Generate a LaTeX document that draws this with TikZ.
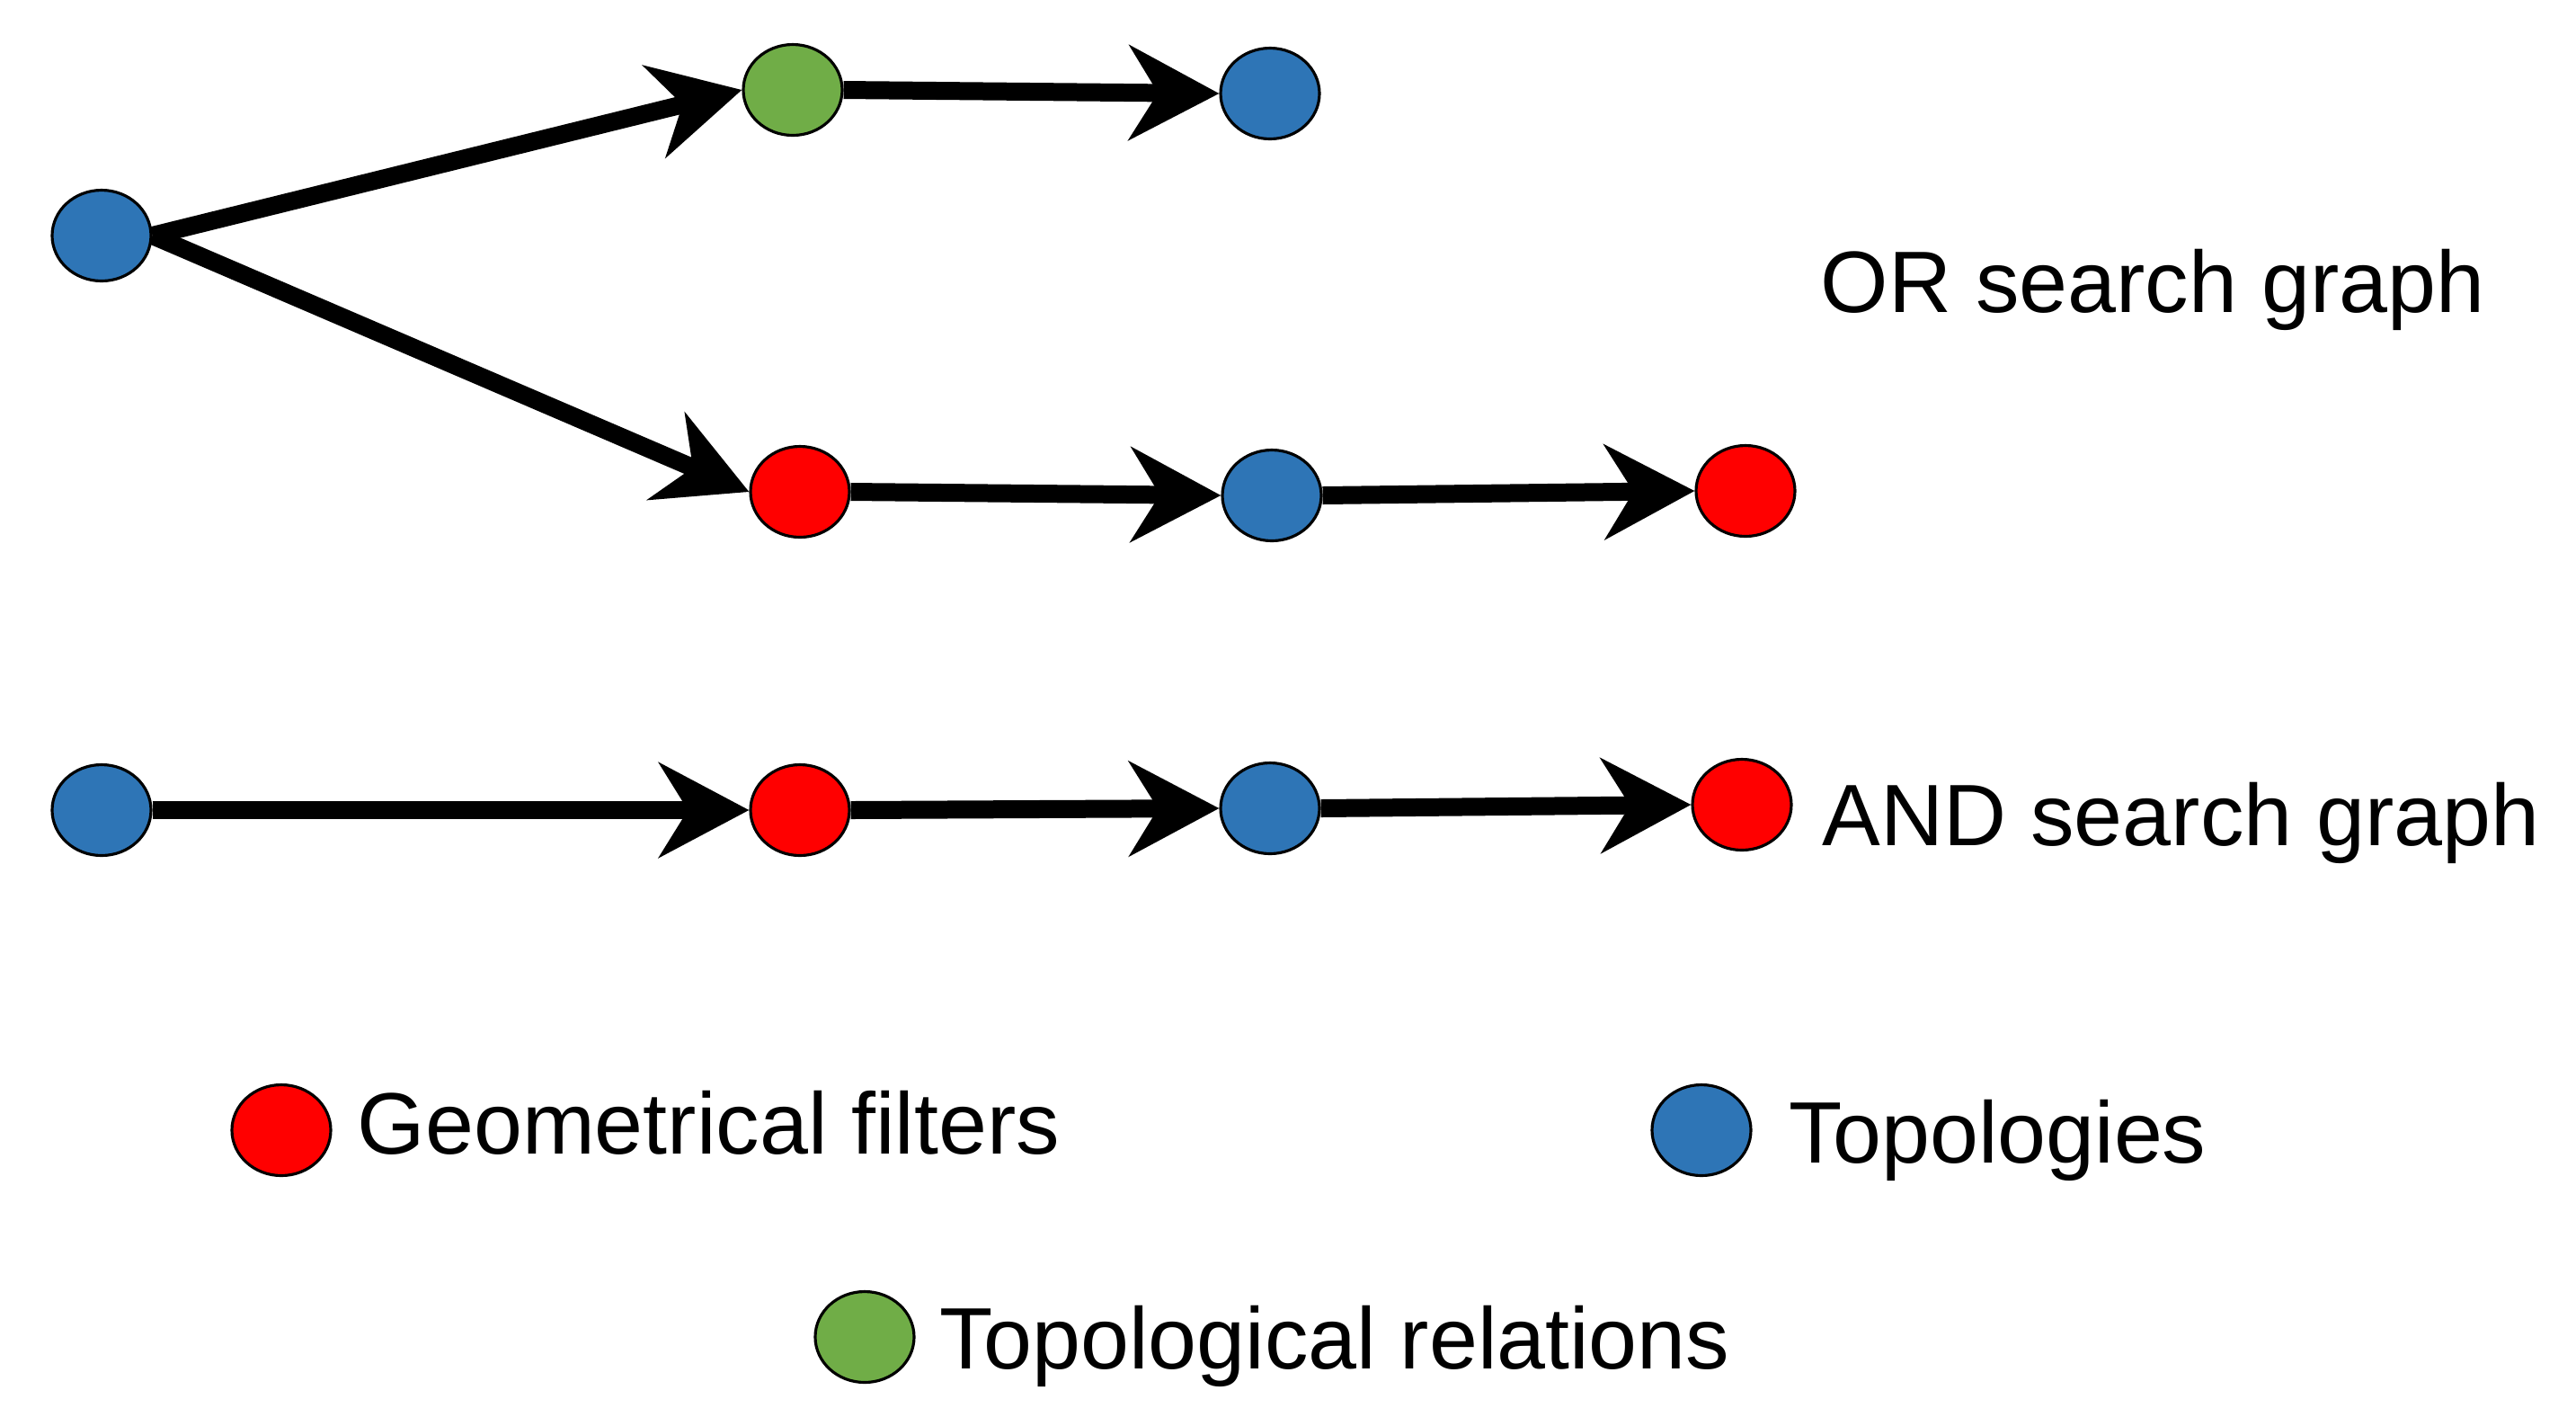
\documentclass[tikz,border=0pt]{standalone}
\usepackage{fontspec}
\setmainfont{Liberation Sans}
\usepackage{xcolor}
\usepackage{tikz}
\usetikzlibrary{arrows.meta,positioning,shapes.geometric}

\definecolor{topoblue}{HTML}{2E75B6}
\definecolor{geored}{HTML}{FF0000}
\definecolor{relgreen}{HTML}{70AD47}

\begin{document}
\begin{tikzpicture}[
  vtx/.style={ellipse, draw=black, line width=0.9pt, inner sep=0pt, minimum width=1.10cm, minimum height=1.01cm},
  topo/.style={vtx, fill=topoblue},
  geo/.style={vtx, fill=geored},
  rel/.style={vtx, fill=relgreen},
  lab/.style={font=\fontsize{27.6}{33}\selectfont, inner sep=0pt, anchor=base west},
  arrow/.style={-{Stealth[length=1cm, width=1.05cm, inset=0.32cm]}, line width=0.2cm}
]
\useasboundingbox (0,0) rectangle (28.66,-15.75);

% OR search graph
\node[topo] (t0) at (1.13,-2.62) {};
\node[rel]  (g1) at (8.82,-1.00) {};
\node[topo] (t1) at (14.13,-1.04) {};
\node[geo]  (f1) at (8.90,-5.47) {};
\node[topo] (t2) at (14.15,-5.51) {};
\node[geo]  (f2) at (19.42,-5.46) {};
\foreach \a/\b in {t0/g1, g1/t1, t0/f1, f1/t2, t2/f2} \draw[arrow] (\a.east) -- (\b.west);

% AND search graph
\node[topo] (a0) at (1.13,-9.01) {};
\node[geo]  (f3) at (8.90,-9.01) {};
\node[topo] (t3) at (14.13,-8.99) {};
\node[geo]  (f4) at (19.38,-8.95) {};
\foreach \a/\b in {a0/f3, f3/t3, t3/f4} \draw[arrow] (\a.east) -- (\b.west);

\node[lab] (orlab) at (20.25,-3.47) {OR search graph};
\node[lab] (andlab) at (20.27,-9.40) {AND search graph};

% legend
\node[geo]  (lg1) at (3.13,-12.57) {};
\node[topo] (lg2) at (18.93,-12.57) {};
\node[rel]  (lg3) at (9.62,-14.87) {};
\node[lab] (lt1) at (3.97,-12.83) {Geometrical filters};
\node[lab] (lt2) at (19.90,-12.93) {Topologies};
\node[lab] (lt3) at (10.45,-15.22) {Topological relations};
\end{tikzpicture}
\end{document}
